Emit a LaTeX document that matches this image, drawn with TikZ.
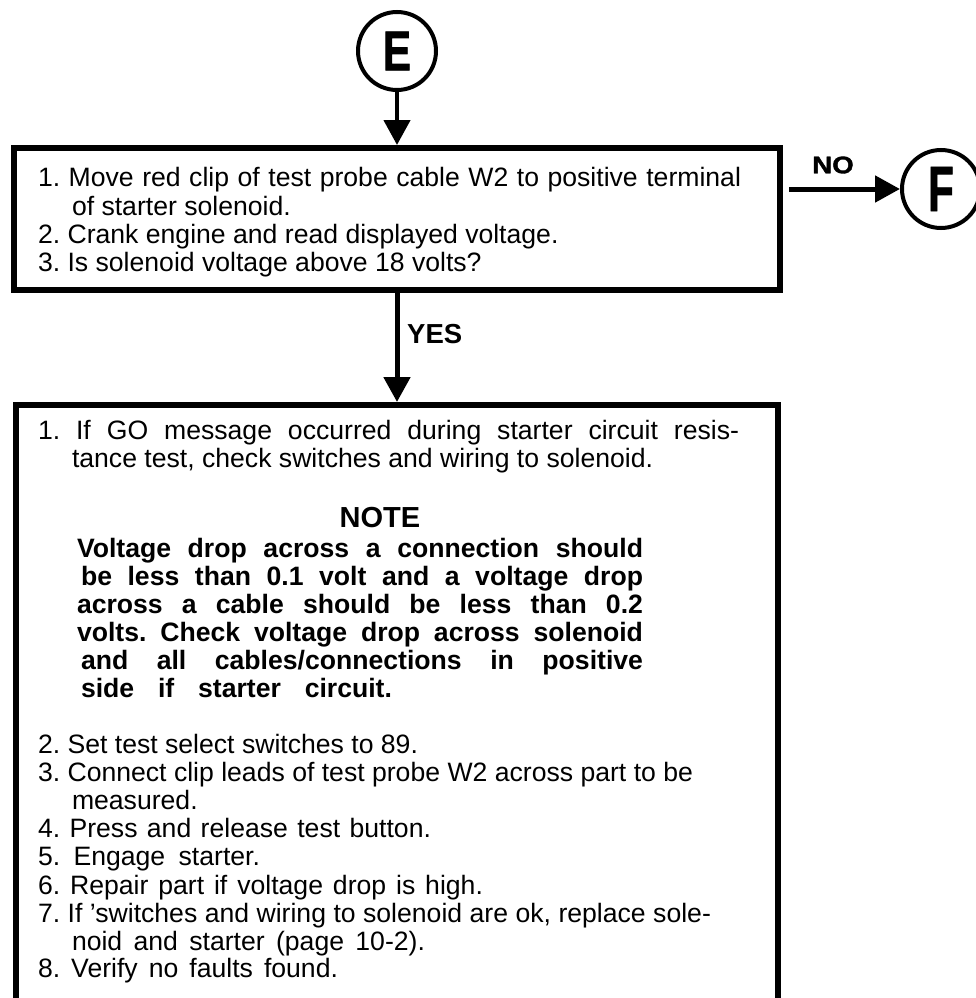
\documentclass[tikz,border=0pt]{standalone}
\usepackage{fontspec}
\setmainfont{Liberation Sans}
\newfontfamily\heavyfont{Liberation Sans}[UprightFont={* Bold}, FakeBold=1.5]
\usetikzlibrary{arrows.meta}
\frenchspacing
\tikzset{
  txt/.style={anchor=base west, inner sep=0pt, outer sep=0pt, font=\fontsize{26.6}{28.4}\selectfont},
  btxt/.style={anchor=base west, inner sep=0pt, outer sep=0pt, font=\fontsize{26.6}{28.4}\selectfont\bfseries},
  stepbox/.style={draw, rectangle, line width=6pt, inner sep=0pt},
  circ/.style={draw, circle, line width=4pt, minimum size=78pt, inner sep=0pt, font=\heavyfont},
  flow/.style={line width=5pt, -{Triangle[length=25pt,width=26pt]}},
}
\begin{document}
\frenchspacing
\begin{tikzpicture}[x=1pt,y=-1pt]
\useasboundingbox (0,0) rectangle (976,998);
\clip (0,0) rectangle (976,998);

% boxes
\node[stepbox, minimum width=766pt, minimum height=142pt] (b1) at (397,219) {};
\node[stepbox, minimum width=762pt, minimum height=600pt] (b2) at (397,705) {};

% connector circles
\node[circ] (E) at (397,51) {\fontsize{56}{56}\selectfont\scalebox{0.75}[1]{E}};
\node[circ] (F) at (941,189) {\fontsize{64}{64}\selectfont\scalebox{0.66}[1]{F}};

% connectors
\draw[flow, line width=4.5pt] (E.south) -- (E.south |- b1.north);
\draw[flow] (b1.south) -- (b1.south |- b2.north);
\draw[flow, shorten <=6pt] (b1.east |- F.west) -- (F.west);

% labels
\node[anchor=base west, inner sep=0pt, font=\fontsize{27.5}{27.5}\selectfont\bfseries] (yes) at (407,343) {YES};
\node[inner sep=0pt, font=\fontsize{24}{24}\heavyfont] (no) at (833,165) {\scalebox{1.15}[1]{NO}};

% box 1 text
\node[txt] (t11) at (38,186) {\makebox[703pt][s]{1. Move red clip of test probe cable W2 to positive terminal}};
\node[txt] (t12) at (72,215) {of starter solenoid.};
\node[txt] (t13) at (38,243) {2. Crank engine and read displayed voltage.};
\node[txt] (t14) at (38,271) {3. Is solenoid voltage above 18 volts?};

% box 2 text
\node[txt] (t21) at (38,439) {\makebox[701pt][s]{1. If GO message occurred during starter circuit resis-}};
\node[txt] (t22) at (72,467) {tance test, check switches and wiring to solenoid.};
\node[anchor=base, inner sep=0pt, font=\fontsize{29}{29}\selectfont\bfseries] (note) at (380,527) {NOTE};
\node[btxt] (n1) at (77,557) {\makebox[566pt][s]{Voltage drop across a connection should}};
\node[btxt] (n2) at (81,585) {\makebox[562pt][s]{be less than 0.1 volt and a voltage drop}};
\node[btxt] (n3) at (77,613) {\makebox[566pt][s]{across a cable should be less than 0.2}};
\node[btxt] (n4) at (77,641) {\makebox[566pt][s]{volts. Check voltage drop across solenoid}};
\node[btxt] (n5) at (81,669) {\makebox[562pt][s]{and all cables/connections in positive}};
\node[btxt] (n6) at (81,697) {\makebox[311pt][s]{side if starter circuit.}};
\node[txt] (t23) at (38,753) {2. Set test select switches to 89.};
\node[txt] (t24) at (38,781) {3. Connect clip leads of test probe W2 across part to be};
\node[txt] (t25) at (72,809) {measured.};
\node[txt] (t26) at (38,837) {\makebox[393pt][s]{4. Press and release test button.}};
\node[txt] (t27) at (38,865) {\makebox[222pt][s]{5. Engage starter.}};
\node[txt] (t28) at (38,894) {\makebox[445pt][s]{6. Repair part if voltage drop is high.}};
\node[txt] (t29) at (38,922) {\makebox[673pt][s]{7. If 'switches and wiring to solenoid are ok, replace sole-}};
\node[txt] (t30) at (72,950) {\makebox[353pt][s]{noid and starter (page 10-2).}};
\node[txt] (t31) at (38,977) {\makebox[300pt][s]{8. Verify no faults found.}};
\end{tikzpicture}
\end{document}
